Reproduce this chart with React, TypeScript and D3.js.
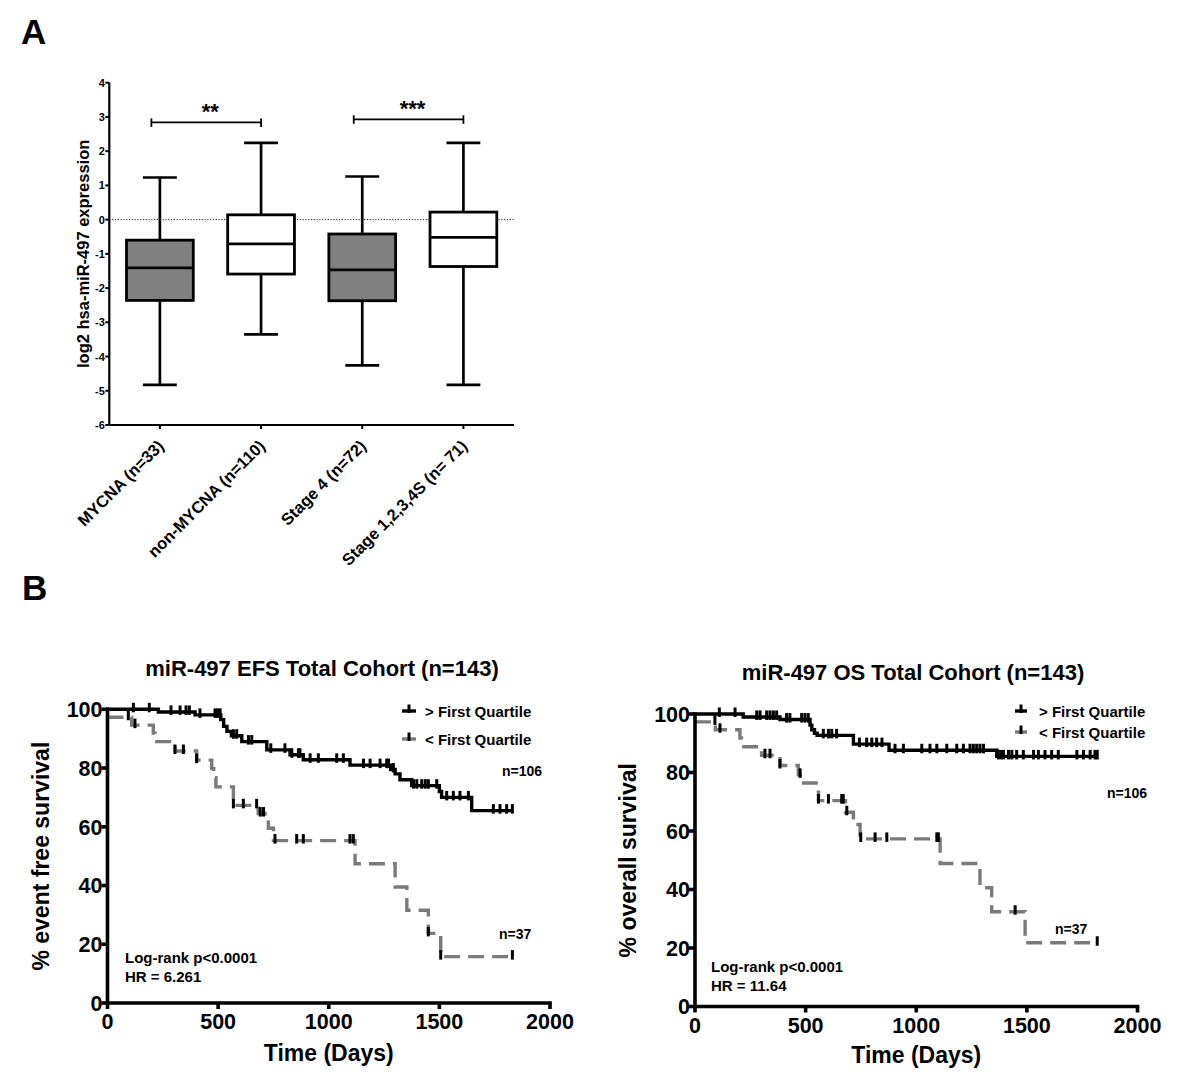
import React from "react";
import * as d3 from "d3";

const FONT = "'Liberation Sans', Arial, Helvetica, sans-serif";

// ---------- Panel A data ----------
const boxCategories = ["MYCNA (n=33)", "non-MYCNA (n=110)", "Stage 4 (n=72)", "Stage 1,2,3,4S (n= 71)"];
const boxWhiskerLow = [-4.83, -3.35, -4.26, -4.83];
const boxQ1 = [-2.36, -1.59, -2.37, -1.37];
const boxMedian = [-1.41, -0.71, -1.47, -0.52];
const boxQ3 = [-0.6, 0.14, -0.42, 0.22];
const boxWhiskerHigh = [1.23, 2.24, 1.26, 2.24];
const boxFilled = [true, false, true, false];
const yTicksA = [4, 3, 2, 1, 0, -1, -2, -3, -4, -5, -6];
const sigFrom = [0, 2];
const sigTo = [1, 3];
const sigLevel = [2.84, 2.93];
const sigLabel = ["**", "***"];

// ---------- Panel B data ----------
const kmXTicks = [0, 500, 1000, 1500, 2000];
const kmYTicks = [0, 20, 40, 60, 80, 100];

// EFS, > First Quartile
const efsAboveTimes = [0, 230, 396, 512, 525, 540, 560, 607, 720, 825, 885, 1096, 1280, 1300, 1322, 1375, 1500, 1510, 1646];
const efsAboveSurv = [100, 99.1, 98.1, 96.5, 94.2, 92.5, 91.0, 89.0, 86.2, 84.5, 82.8, 81.0, 79.5, 78.0, 76.0, 74.0, 72.0, 70.0, 65.5];
const efsAboveEnd = 1830;
const efsAboveCensor = [117, 189, 287, 328, 355, 370, 418, 486, 497, 509, 569, 584, 637, 652, 738, 802, 833, 863, 870, 916, 953, 1036, 1066, 1157, 1187, 1232, 1262, 1270, 1292, 1383, 1398, 1420, 1436, 1450, 1488, 1533, 1563, 1593, 1631, 1744, 1774, 1804, 1830];

// EFS, < First Quartile
const efsBelowTimes = [0, 109, 207, 215, 305, 403, 471, 480, 490, 569, 681, 712, 727, 750, 1119, 1300, 1353, 1450, 1506];
const efsBelowSurv = [97.3, 94.6, 91.9, 89.0, 85.8, 82.7, 79.8, 76.7, 73.6, 67.3, 64.5, 61.6, 59.5, 55.3, 47.4, 39.5, 31.6, 23.7, 15.8];
const efsBelowEnd = 1830;
const efsBelowCensor = [94, 124, 305, 343, 403, 569, 614, 674, 690, 705, 757, 855, 885, 1096, 1111, 1450, 1506, 1830];

// OS, > First Quartile
const osAboveTimes = [0, 218, 384, 520, 528, 540, 552, 716, 877, 1364];
const osAboveSurv = [100, 99.0, 98.1, 96.2, 94.6, 93.4, 92.7, 89.7, 87.6, 85.5];
const osAboveEnd = 1818;
const osAboveCensor = [110, 181, 279, 294, 324, 339, 354, 369, 414, 429, 482, 497, 512, 580, 603, 618, 640, 743, 776, 799, 821, 845, 904, 942, 1025, 1062, 1093, 1138, 1183, 1213, 1243, 1258, 1273, 1288, 1304, 1371, 1383, 1394, 1417, 1432, 1454, 1484, 1530, 1552, 1582, 1612, 1642, 1726, 1756, 1786, 1808, 1818];

// OS, < First Quartile
const osBelowTimes = [0, 92, 203, 210, 301, 384, 467, 476, 558, 680, 716, 746, 1108, 1288, 1341, 1492];
const osBelowSurv = [97.3, 94.6, 91.8, 88.8, 85.9, 82.4, 79.2, 76.4, 70.4, 66.4, 62.2, 57.3, 48.9, 40.6, 32.4, 21.8];
const osBelowEnd = 1818;
const osBelowCensor = [90, 113, 316, 339, 384, 475, 558, 603, 663, 670, 686, 749, 814, 867, 1093, 1100, 1447, 1818];

const BLACK = "#000";
const GRAY = "#7a7a7a";

function stepAt(times: number[], surv: number[], t: number) {
  let v = surv[0];
  for (let i = 0; i < times.length; i++) if (times[i] <= t) v = surv[i];
  return v;
}

type Curve = { times: number[]; surv: number[]; end: number; censor: number[]; color: string; dash?: string };

type KMCfg = {
  xr: [number, number];
  yr: [number, number];
  title: string;
  titleX: number;
  titleY: number;
  ylabel: string;
  ylabelX: number;
  xlabelY: number;
  tickLabelY: number;
  legX: [number, number];
  legY: [number, number];
  legTextX: number;
  n106: [number, number];
  n37: [number, number];
  stat: [number, number, number];
  hr: string;
};

function KMPanel({ cfg, curves }: { cfg: KMCfg; curves: Curve[] }) {
  const x = d3.scaleLinear().domain([0, 2000]).range(cfg.xr);
  const y = d3.scaleLinear().domain([0, 100]).range(cfg.yr);
  const line = d3
    .line<[number, number]>()
    .x((d) => x(d[0]))
    .y((d) => y(d[1]))
    .curve(d3.curveStepAfter);
  const x0 = cfg.xr[0];
  const y0 = cfg.yr[0];
  const legendNames = ["> First Quartile", "< First Quartile"];
  return (
    <g fontFamily={FONT} fontWeight="bold">
      <text x={cfg.titleX} y={cfg.titleY} textAnchor="middle" fontSize={22}>
        {cfg.title}
      </text>
      {curves
        .slice()
        .reverse()
        .map((c, i) => {
          const pts: [number, number][] = c.times.map((t, k) => [t, c.surv[k]] as [number, number]);
          pts.push([c.end, c.surv[c.surv.length - 1]]);
          return (
            <g key={i}>
              <path d={line(pts) || ""} fill="none" stroke={c.color} strokeWidth={3.4} strokeDasharray={c.dash} />
              {c.censor.map((t, k) => {
                const v = stepAt(c.times, c.surv, t);
                return (
                  <line key={k} x1={x(t)} x2={x(t)} y1={y(v) - 6.5} y2={y(v) + 3} stroke={BLACK} strokeWidth={3} />
                );
              })}
            </g>
          );
        })}
      <line x1={x0} x2={cfg.xr[1]} y1={y0} y2={y0} stroke={BLACK} strokeWidth={3.6} strokeLinecap="square" />
      <line x1={x0} x2={x0} y1={y0} y2={cfg.yr[1]} stroke={BLACK} strokeWidth={3.6} strokeLinecap="square" />
      {kmXTicks.map((t) => (
        <g key={"xt" + t}>
          <line x1={x(t)} x2={x(t)} y1={y0} y2={y0 + 6} stroke={BLACK} strokeWidth={3.6} />
          <text x={x(t)} y={cfg.tickLabelY} textAnchor="middle" fontSize={21.5}>
            {t}
          </text>
        </g>
      ))}
      {kmYTicks.map((t) => (
        <g key={"yt" + t}>
          <line x1={x0 - 6} x2={x0} y1={y(t)} y2={y(t)} stroke={BLACK} strokeWidth={3.6} />
          <text x={x0 - 5} y={y(t)} dy="0.36em" textAnchor="end" fontSize={21.5}>
            {t}
          </text>
        </g>
      ))}
      <text
        transform={`translate(${cfg.ylabelX},${(cfg.yr[0] + cfg.yr[1]) / 2}) rotate(-90)`}
        textAnchor="middle"
        fontSize={23}
      >
        {cfg.ylabel}
      </text>
      <text x={(cfg.xr[0] + cfg.xr[1]) / 2} y={cfg.xlabelY} textAnchor="middle" fontSize={23}>
        Time (Days)
      </text>
      {curves.map((c, i) => {
        const ly = cfg.legY[i];
        const mid = (cfg.legX[0] + cfg.legX[1]) / 2;
        return (
          <g key={"lg" + i}>
            <line x1={cfg.legX[0]} x2={cfg.legX[1]} y1={ly} y2={ly} stroke={c.color} strokeWidth={3.4} />
            <line x1={mid} x2={mid} y1={ly - 6.5} y2={ly + 2} stroke={BLACK} strokeWidth={3} />
            <text x={cfg.legTextX} y={ly + 5.5} fontSize={15}>
              {legendNames[i]}
            </text>
          </g>
        );
      })}
      <text x={cfg.n106[0]} y={cfg.n106[1]} fontSize={14}>
        n=106
      </text>
      <text x={cfg.n37[0]} y={cfg.n37[1]} fontSize={14}>
        n=37
      </text>
      <text x={cfg.stat[0]} y={cfg.stat[1]} fontSize={15}>
        Log-rank p&lt;0.0001
      </text>
      <text x={cfg.stat[0]} y={cfg.stat[2]} fontSize={15}>
        {cfg.hr}
      </text>
    </g>
  );
}

function BoxPanel() {
  const yA = d3.scaleLinear().domain([-6, 4]).range([425, 82.7]);
  const xA = d3.scaleBand<string>().domain(boxCategories).range([109.3, 514]).padding(0);
  const bw = xA.bandwidth();
  const boxW = bw * 0.66;
  const capW = bw * 0.335;
  const cx = (i: number) => (xA(boxCategories[i]) as number) + bw / 2;
  const axX = 109.3;
  const axY = yA(-6);
  return (
    <g fontFamily={FONT} fontWeight="bold">
      <line x1={axX} x2={514} y1={yA(0)} y2={yA(0)} stroke={BLACK} strokeWidth={0.9} strokeDasharray="1.2,1.6" />
      {boxCategories.map((c, i) => {
        const x = cx(i);
        return (
          <g key={c}>
            <line x1={x} x2={x} y1={yA(boxWhiskerHigh[i])} y2={yA(boxQ3[i])} stroke={BLACK} strokeWidth={2.7} />
            <line x1={x} x2={x} y1={yA(boxQ1[i])} y2={yA(boxWhiskerLow[i])} stroke={BLACK} strokeWidth={2.7} />
            <line x1={x - capW / 2} x2={x + capW / 2} y1={yA(boxWhiskerHigh[i])} y2={yA(boxWhiskerHigh[i])} stroke={BLACK} strokeWidth={2.7} />
            <line x1={x - capW / 2} x2={x + capW / 2} y1={yA(boxWhiskerLow[i])} y2={yA(boxWhiskerLow[i])} stroke={BLACK} strokeWidth={2.7} />
            <rect
              x={x - boxW / 2}
              y={yA(boxQ3[i])}
              width={boxW}
              height={yA(boxQ1[i]) - yA(boxQ3[i])}
              fill={boxFilled[i] ? "#808080" : "#fff"}
              stroke={BLACK}
              strokeWidth={2.8}
            />
            <line x1={x - boxW / 2} x2={x + boxW / 2} y1={yA(boxMedian[i])} y2={yA(boxMedian[i])} stroke={BLACK} strokeWidth={2.8} />
            <line x1={x} x2={x} y1={axY} y2={axY + 4} stroke={BLACK} strokeWidth={2} />
            <text transform={`translate(${x + 5},${axY + 22}) rotate(-45)`} textAnchor="end" fontSize={16.5}>
              {c}
            </text>
          </g>
        );
      })}
      {sigLabel.map((s, i) => {
        const xa = cx(sigFrom[i]) - 8.5;
        const xb = cx(sigTo[i]);
        const yy = yA(sigLevel[i]);
        return (
          <g key={"sig" + i}>
            <line x1={xa} x2={xb} y1={yy} y2={yy} stroke={BLACK} strokeWidth={1.8} />
            <line x1={xa} x2={xa} y1={yy - 4} y2={yy + 4.5} stroke={BLACK} strokeWidth={1.8} />
            <line x1={xb} x2={xb} y1={yy - 4} y2={yy + 4.5} stroke={BLACK} strokeWidth={1.8} />
            <text x={(xa + xb) / 2 + 4} y={yy - 3} textAnchor="middle" fontSize={22}>
              {s}
            </text>
          </g>
        );
      })}
      <line x1={axX} x2={514} y1={axY} y2={axY} stroke={BLACK} strokeWidth={2.2} />
      <line x1={axX} x2={axX} y1={axY} y2={yA(4)} stroke={BLACK} strokeWidth={2.2} />
      {yTicksA.map((t) => (
        <g key={"ya" + t}>
          <line x1={axX - 4} x2={axX} y1={yA(t)} y2={yA(t)} stroke={BLACK} strokeWidth={2} />
          <text x={axX - 4.5} y={yA(t)} dy="0.36em" textAnchor="end" fontSize={11}>
            {t}
          </text>
        </g>
      ))}
      <text transform={`translate(89,${(yA(4) + yA(-6)) / 2}) rotate(-90)`} textAnchor="middle" fontSize={16.5}>
        log2 hsa-miR-497 expression
      </text>
    </g>
  );
}

export default function App() {
  const leftCurves: Curve[] = [
    { times: efsAboveTimes, surv: efsAboveSurv, end: efsAboveEnd, censor: efsAboveCensor, color: BLACK },
    { times: efsBelowTimes, surv: efsBelowSurv, end: efsBelowEnd, censor: efsBelowCensor, color: GRAY, dash: "16,8" },
  ];
  const rightCurves: Curve[] = [
    { times: osAboveTimes, surv: osAboveSurv, end: osAboveEnd, censor: osAboveCensor, color: BLACK },
    { times: osBelowTimes, surv: osBelowSurv, end: osBelowEnd, censor: osBelowCensor, color: GRAY, dash: "16,8" },
  ];
  const leftCfg: KMCfg = {
    xr: [107.5, 550],
    yr: [1003, 709.3],
    title: "miR-497 EFS Total Cohort (n=143)",
    titleX: 322,
    titleY: 676,
    ylabel: "% event free survival",
    ylabelX: 49,
    xlabelY: 1061,
    tickLabelY: 1029,
    legX: [402, 416],
    legY: [711, 739],
    legTextX: 425,
    n106: [502, 776],
    n37: [499, 939],
    stat: [125, 963, 982],
    hr: "HR = 6.261",
  };
  const rightCfg: KMCfg = {
    xr: [695, 1137.5],
    yr: [1006.5, 714],
    title: "miR-497 OS Total Cohort (n=143)",
    titleX: 913,
    titleY: 680,
    ylabel: "% overall survival",
    ylabelX: 636,
    xlabelY: 1063,
    tickLabelY: 1033,
    legX: [1015, 1027],
    legY: [711, 732],
    legTextX: 1039,
    n106: [1107, 798],
    n37: [1055, 934],
    stat: [711, 972, 991],
    hr: "HR = 11.64",
  };
  return (
    <svg
      width={1200}
      height={1079}
      viewBox="0 0 1200 1079"
      style={{ position: "absolute", left: 0, top: 0, background: "#fff" }}
    >
      <rect x={0} y={0} width={1200} height={1079} fill="#fff" />
      <text x={21} y={43.5} fontFamily={FONT} fontWeight="bold" fontSize={35}>
        A
      </text>
      <text x={22} y={600} fontFamily={FONT} fontWeight="bold" fontSize={35}>
        B
      </text>
      <BoxPanel />
      <KMPanel cfg={leftCfg} curves={leftCurves} />
      <KMPanel cfg={rightCfg} curves={rightCurves} />
    </svg>
  );
}
